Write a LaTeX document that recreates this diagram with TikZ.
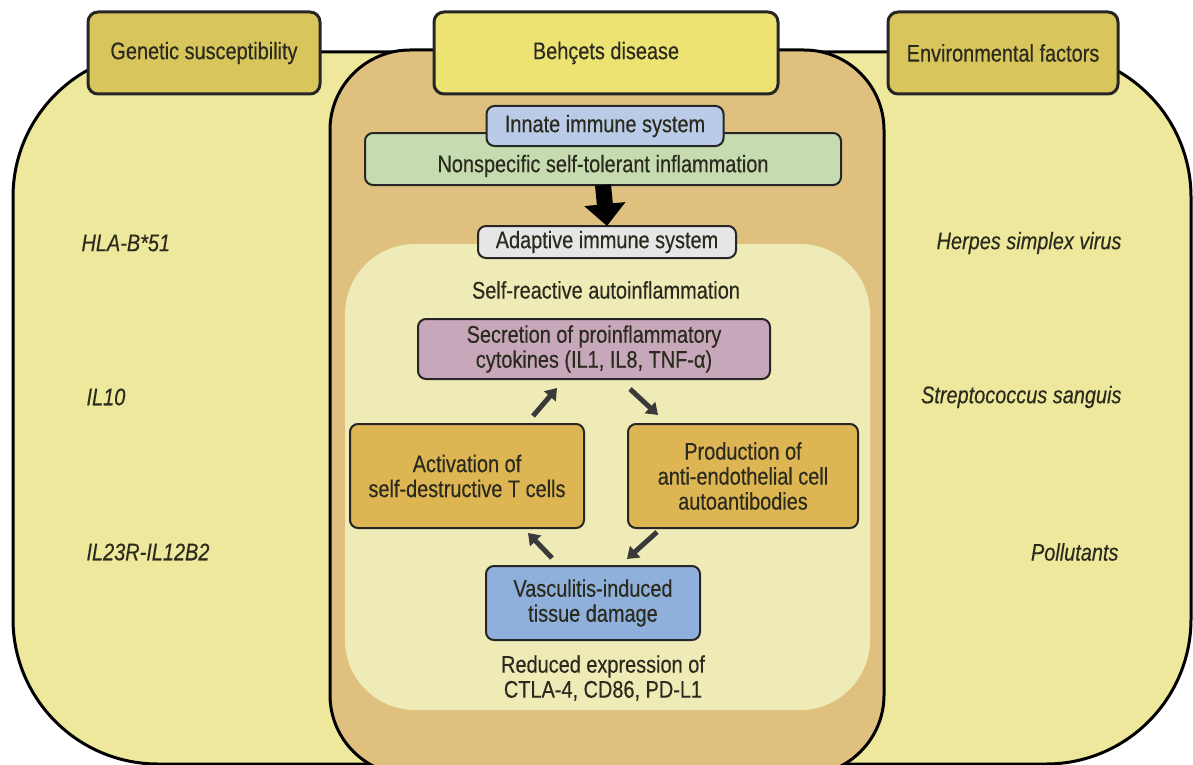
\documentclass[tikz,border=0pt]{standalone}
\usepackage{fontspec}
\setmainfont{Liberation Sans}[FakeStretch=0.83, FakeBold=0.35]
\usetikzlibrary{arrows.meta}
\definecolor{outerY}{HTML}{EDE89C}
\definecolor{midO}{HTML}{DFC07F}
\definecolor{innerP}{HTML}{EFEBB7}
\definecolor{hdrS}{HTML}{D8C55C}
\definecolor{hdrM}{HTML}{EDE373}
\definecolor{innateC}{HTML}{B9CBE6}
\definecolor{nonspC}{HTML}{C6DBB0}
\definecolor{adaptC}{HTML}{E6E6E6}
\definecolor{secrC}{HTML}{C7A7BA}
\definecolor{goldC}{HTML}{DDB552}
\definecolor{vascC}{HTML}{8FB0DA}
\definecolor{txtC}{HTML}{2A2A1E}
\definecolor{arrC}{HTML}{3A3A3A}
\tikzset{
  every node/.style={text=txtC, font=\fontsize{24}{25}\selectfont},
  boxbase/.style={draw=black!85, line width=2pt, rounded corners=8pt, align=center, inner sep=0pt},
  hdr/.style={boxbase, line width=3pt, rounded corners=10pt, minimum height=82pt},
  side/.style={font=\fontsize{24}{25}\selectfont\itshape},
  smallarr/.style={draw=arrC, line width=5pt, -{Triangle[length=11pt,width=15pt]}},
}
\begin{document}
\begin{tikzpicture}[x=1pt,y=-1pt]
\useasboundingbox (0,0) rectangle (1193,765);
% outer yellow
\draw[fill=outerY, line width=3pt, rounded corners=145pt] (13,52) rectangle (1191,764);
% middle orange
\draw[fill=midO, line width=3pt, rounded corners=80pt] (330,50) rectangle (884,775);
% inner pale
\fill[innerP, rounded corners=70pt] (345,244) rectangle (870,710);
% headers
\node[hdr, fill=hdrS, minimum width=232pt] (gen) at (204,53) {Genetic susceptibility};
\node[hdr, fill=hdrM, minimum width=344pt] (beh) at (606,53) {Behçets disease};
\node[hdr, fill=hdrS, minimum width=230pt] (env) at (1003,53) {Environmental factors};
% innate / nonspecific
\node[boxbase, fill=nonspC, minimum width=476pt, minimum height=52pt,
  label={[yshift=-7pt]center:Nonspecific self-tolerant inflammation}] (nonsp) at (603,159) {};
\node[boxbase, fill=innateC, minimum width=237pt, minimum height=40pt] (innate) at (605,126) {Innate immune system};
% adaptive
\node[boxbase, fill=adaptC, minimum width=258pt, minimum height=32pt] (adapt) at (607,242) {Adaptive immune system};
% big arrow
\draw[black, line width=16pt, -{Triangle[length=22pt,width=40pt]}] ([yshift=1pt]nonsp.south) -- ([yshift=-1pt]adapt.north);
% self reactive text
\node (selfr) at (606,290) {Self-reactive autoinflammation};
% cycle boxes
\node[boxbase, fill=secrC, minimum width=352pt, minimum height=60pt] (secr) at (594,349) {Secretion of proinflammatory\\cytokines (IL1, IL8, TNF-α)};
\node[boxbase, fill=goldC, minimum width=234pt, minimum height=104pt] (act) at (467,476) {Activation of\\self-destructive T cells};
\node[boxbase, fill=goldC, minimum width=230pt, minimum height=104pt] (prod) at (743,476) {Production of\\anti-endothelial cell\\autoantibodies};
\node[boxbase, fill=vascC, minimum width=214pt, minimum height=74pt] (vasc) at (593,603) {Vasculitis-induced\\tissue damage};
\node[align=center] (red) at (603,678) {Reduced expression of\\CTLA-4, CD86, PD-L1};
% small arrows
\coordinate (a1s) at (533,416); \coordinate (a1e) at (557,388);
\coordinate (a2s) at (630,389); \coordinate (a2e) at (658,415);
\coordinate (a3s) at (657,532); \coordinate (a3e) at (627,559);
\coordinate (a4s) at (552,558); \coordinate (a4e) at (528,533);
\draw[smallarr] (a1s) -- (a1e);
\draw[smallarr] (a2s) -- (a2e);
\draw[smallarr] (a3s) -- (a3e);
\draw[smallarr] (a4s) -- (a4e);
% side texts
\node[side, anchor=west] (hla) at (78,243) {HLA-B*51};
\node[side, anchor=west] (il10) at (83,397) {IL10};
\node[side, anchor=west] (il23) at (83,552) {IL23R-IL12B2};
\node[side, anchor=east] (hsv) at (1125,243) {Herpes simplex virus};
\node[side, anchor=east] (strep) at (1125,397) {Streptococcus sanguis};
\node[side, anchor=east] (poll) at (1122,552) {Pollutants};
\end{tikzpicture}
\end{document}
